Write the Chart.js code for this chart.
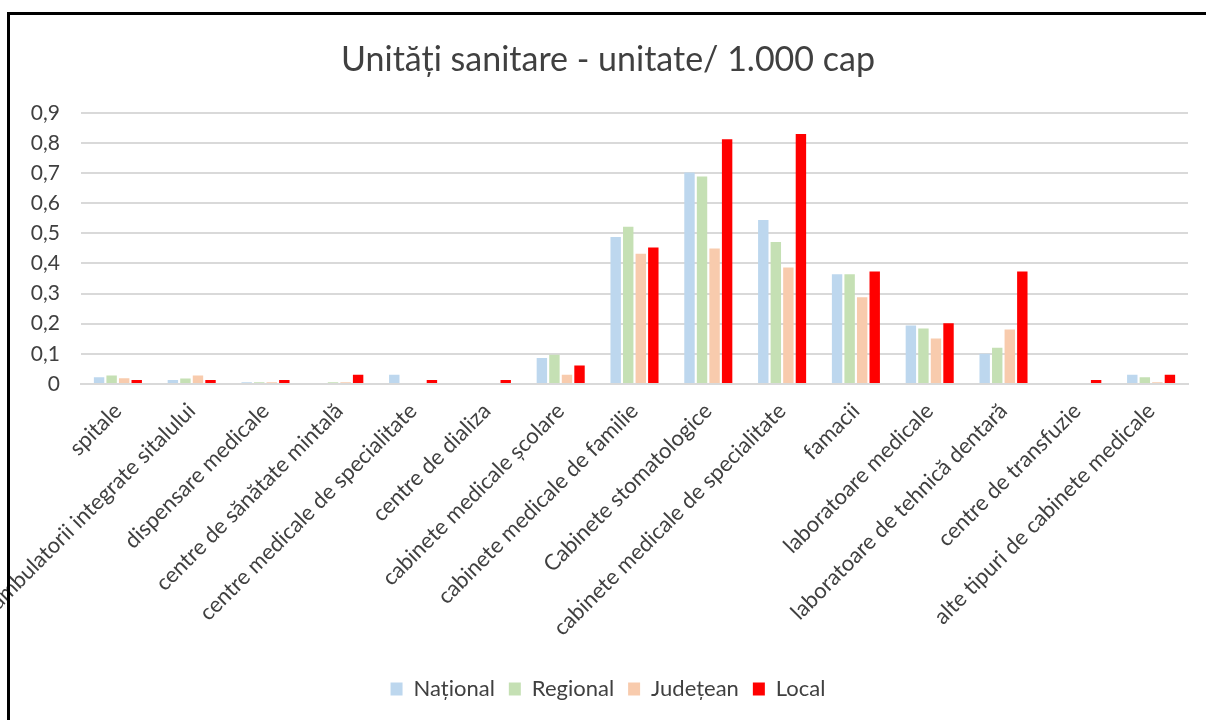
<!DOCTYPE html>
<html>
<head>
<meta charset="utf-8">
<script src="https://cdn.jsdelivr.net/npm/chart.js@4.4.0/dist/chart.umd.min.js"></script>
<style>
html,body{margin:0;padding:0;background:#fff;}
#wrap{position:relative;width:1206px;height:720px;overflow:hidden;}
#c{position:absolute;left:0;top:0;}
#frame{position:absolute;left:7px;top:12px;width:1220px;height:720px;border-left:3px solid #000;border-top:3px solid #000;pointer-events:none;}
</style>
</head>
<body>
<div id="wrap">
<canvas id="c" width="1206" height="720"></canvas>
<div id="frame"></div>
</div>
<script>
const categories = [
  "spitale",
  "ambulatorii integrate sitalului",
  "dispensare medicale",
  "centre de sănătate mintală",
  "centre medicale de specialitate",
  "centre de dializa",
  "cabinete medicale școlare",
  "cabinete medicale de familie",
  "Cabinete stomatologice",
  "cabinete medicale de specialitate",
  "famacii",
  "laboratoare medicale",
  "laboratoare de tehnică dentară",
  "centre de transfuzie",
  "alte tipuri de cabinete medicale"
];
const national  = [0.022, 0.013, 0.006, 0,     0.031, 0,     0.086, 0.488, 0.702, 0.544, 0.364, 0.194, 0.100, 0,     0.031];
const regional  = [0.028, 0.018, 0.006, 0.006, 0,     0,     0.097, 0.522, 0.689, 0.471, 0.364, 0.184, 0.120, 0,     0.022];
const judetean  = [0.019, 0.028, 0.006, 0.006, 0,     0,     0.031, 0.432, 0.450, 0.387, 0.288, 0.151, 0.181, 0,     0.006];
const local     = [0.013, 0.013, 0.013, 0.031, 0.013, 0.013, 0.061, 0.453, 0.812, 0.830, 0.373, 0.202, 0.373, 0.013, 0.031];
const seriesNames = ["Național", "Regional", "Județean", "Local"];
const titleText = "Unități sanitare - unitate/ 1.000 cap";

const FONT = "Lato, 'Open Sans', sans-serif";
const colors = ["#bdd7ee", "#c5e0b4", "#f8cbad", "#ff0000"];
const values = [national, regional, judetean, local];

new Chart(document.getElementById('c'), {
  type: 'bar',
  data: {
    labels: categories,
    datasets: seriesNames.map((n, i) => ({
      label: n,
      data: values[i],
      backgroundColor: colors[i],
      borderWidth: 0,
      categoryPercentage: 0.68,
      barPercentage: 0.83
    }))
  },
  options: {
    responsive: false,
    animation: false,
    layout: { padding: { left: 28, right: 18, top: 0, bottom: 10 } },
    plugins: {
      title: {
        display: true,
        text: titleText,
        color: '#404040',
        font: { family: FONT, size: 34, weight: 'normal' },
        padding: { top: 40, bottom: 32 }
      },
      legend: {
        position: 'bottom',
        labels: {
          color: '#404040',
          font: { family: FONT, size: 22 },
          boxWidth: 12,
          boxHeight: 13,
          padding: 14
        }
      },
      tooltip: { enabled: false }
    },
    scales: {
      x: {
        grid: { display: false, drawTicks: false },
        border: { display: true, color: '#d9d9d9', width: 2 },
        ticks: {
          color: '#404040',
          font: { family: FONT, size: 22 },
          minRotation: 45,
          maxRotation: 45,
          autoSkip: false,
          padding: 14
        },
        afterFit(scale) { scale.height = 280; }
      },
      y: {
        min: 0,
        max: 0.9,
        grid: { color: '#d9d9d9', lineWidth: 2, drawTicks: false },
        border: { display: false },
        ticks: {
          stepSize: 0.1,
          color: '#404040',
          font: { family: FONT, size: 21 },
          padding: 21,
          callback: v => (Math.round(v * 10) === 0 ? '0' : (Math.round(v * 10) / 10).toFixed(1).replace('.', ','))
        },
        afterFit(scale) { scale.width = 53; }
      }
    }
  }
});
</script>
</body>
</html>
